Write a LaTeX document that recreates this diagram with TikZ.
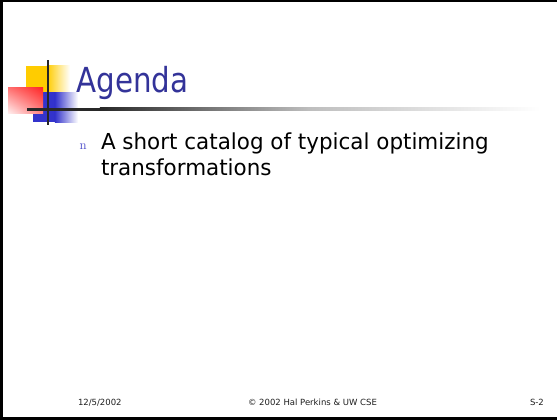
\documentclass[tikz,border=0pt]{standalone}
\usepackage{fontspec}
\usetikzlibrary{shadings}
\newfontfamily\titlefont[FakeStretch=0.85]{DejaVu Sans}
\newfontfamily\bodyfont[FakeStretch=0.975]{DejaVu Sans}
\newfontfamily\footfont{DejaVu Sans}

\definecolor{titleblue}{RGB}{51,51,153}
\definecolor{bulletblue}{RGB}{70,70,200}
\definecolor{logoyellow}{RGB}{255,204,0}
\definecolor{logored}{RGB}{255,40,40}
\definecolor{logoblue}{RGB}{51,51,204}
\definecolor{ruledark}{RGB}{40,40,40}
\definecolor{rulemid}{RGB}{190,190,190}
\definecolor{foottext}{RGB}{30,30,30}

\tikzset{
  txt/.style={inner sep=0pt, outer sep=0pt, anchor=base west},
  titletext/.style={txt, text=titleblue, font=\titlefont\fontsize{34.5}{40}\selectfont},
  bodytext/.style={txt, text=black, font=\bodyfont\fontsize{22}{26}\selectfont},
  bullettext/.style={txt, text=bulletblue, font=\rmfamily\fontsize{13}{15}\selectfont},
  foot/.style={txt, text=foottext, font=\footfont\fontsize{8.5}{10}\selectfont},
}

\begin{document}
\begin{tikzpicture}[x=1pt, y=-1pt]
  \useasboundingbox (0,0) rectangle (557,420);
  \fill[white] (0,0) rectangle (557,420);

  % slide frame: top, left and bottom edges
  \fill[black] (0,0) rectangle (557,2.5);
  \fill[black] (0,0) rectangle (3,420);
  \fill[black] (0,416.8) rectangle (557,420);

  % logo: yellow, blue and red squares with fading edges
  \fill[logoyellow] (26,66) rectangle (47,92);
  \shade[left color=logoyellow, right color=white] (46.9,66) rectangle (70,92);
  \fill[logoblue] (33,92) rectangle (55,122);
  \shade[left color=logoblue, right color=white] (54.9,92) rectangle (78,122);
  \shade[upper left=logored!65, upper right=logored, lower left=logored!8,
         lower right=logored!60] (8,88) rectangle (43,113);

  % title rule fading out to the right
  \fill[ruledark] (27,107.6) rectangle (100,110.6);
  \shade[left color=ruledark, right color=rulemid] (99.9,107.6) rectangle (310,110.6);
  \shade[left color=rulemid, right color=white] (309.9,107.6) rectangle (540,110.6);
  % vertical bar of the logo
  \fill[black!85] (47,60) rectangle (49,125);

  % title
  \node[titletext] (title) at (76.5,92.5) {Agenda};

  % bullet item
  \node[bullettext] (bullet) at (79.5,149.5) {n};
  \node[bodytext] (line1) at (101,149.5) {A short catalog of typical optimizing};
  \node[bodytext] (line2) at (101,175) {transformations};

  % footer
  \node[foot] (date) at (78,405) {12/5/2002};
  \node[foot] (copy) at (248,405) {© 2002 Hal Perkins \& UW CSE};
  \node[foot] (page) at (530,405) {S-2};
\end{tikzpicture}
\end{document}
